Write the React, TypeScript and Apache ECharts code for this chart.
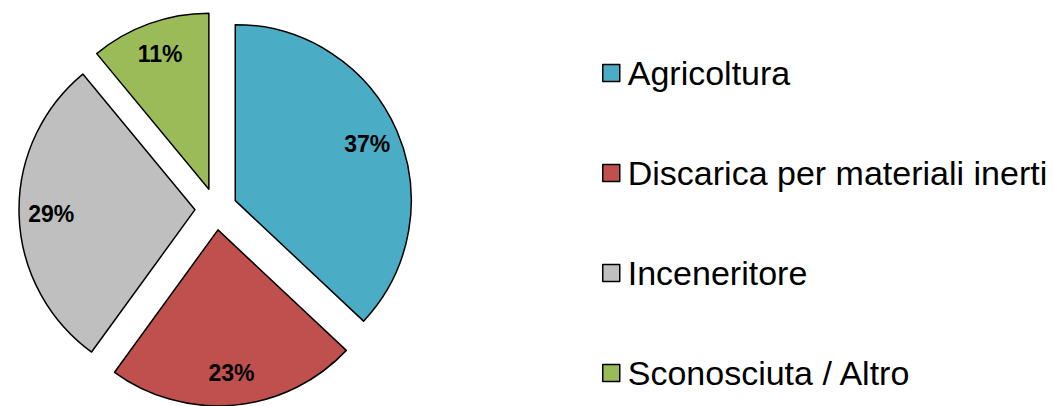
import React, { useEffect, useRef } from "react";
import * as echarts from "echarts";

const categories = ["Agricoltura", "Discarica per materiali inerti", "Inceneritore", "Sconosciuta / Altro"];
const values = [37, 23, 29, 11];
const colors = ["#4BACC6", "#C0504D", "#BFBFBF", "#9BBB59"];

export default function App() {
  const ref = useRef<HTMLDivElement>(null);
  useEffect(() => {
    if (!ref.current) return;
    const chart = echarts.init(ref.current, null, { renderer: "svg" });
    const R = 176;
    const center = [216, 209];
    const data = categories.map((name, i) => ({
      name,
      value: values[i],
      selected: true,
      itemStyle: { color: colors[i] },
    }));
    chart.setOption({
      animation: false,
      backgroundColor: "#ffffff",
      legend: {
        orient: "vertical",
        left: 597,
        top: 48,
        itemWidth: 17,
        itemHeight: 17,
        itemGap: 60,
        icon: "rect",
        data: categories,
        selectedMode: false,
        textStyle: {
          fontFamily: "Liberation Sans, Arial, sans-serif",
          fontSize: 34,
          lineHeight: 40,
          color: "#000000",
          padding: [0, 0, 0, 3],
        },
        itemStyle: { borderColor: "#000000", borderWidth: 1.5 },
      },
      series: [
        {
          type: "pie",
          center,
          radius: [0, R],
          startAngle: 90,
          clockwise: true,
          selectedMode: "multiple",
          selectedOffset: 21,
          silent: true,
          emphasis: { disabled: true },
          itemStyle: { borderColor: "#000000", borderWidth: 1.5 },
          label: { show: false },
          labelLine: { show: false },
          data,
        },
        {
          type: "pie",
          center,
          radius: [R * 0.6, R],
          startAngle: 90,
          clockwise: true,
          selectedMode: "multiple",
          selectedOffset: 21,
          silent: true,
          emphasis: { disabled: true },
          itemStyle: { color: "rgba(0,0,0,0)", borderWidth: 0 },
          label: {
            show: true,
            position: "inside",
            formatter: "{c}%",
            fontFamily: "Liberation Sans, Arial, sans-serif",
            fontWeight: "bold",
            fontSize: 23,
            color: "#000000",
          },
          labelLine: { show: false },
          data: categories.map((name, i) => ({
            name,
            value: values[i],
            selected: true,
            itemStyle: { color: "rgba(0,0,0,0)" },
          })),
        },
      ],
    });
    return () => chart.dispose();
  }, []);
  return (
    <div
      ref={ref}
      style={{ position: "fixed", left: 0, top: 0, width: 1053, height: 406, background: "#fff" }}
    />
  );
}
